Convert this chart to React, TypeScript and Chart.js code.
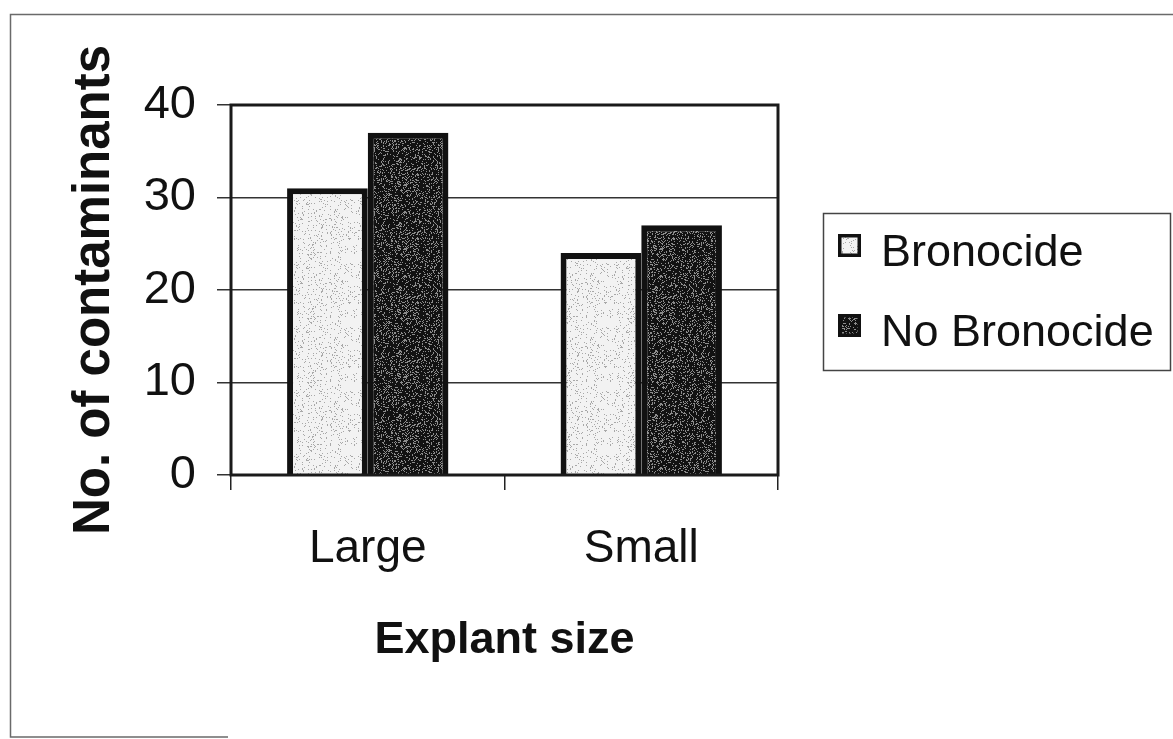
import React, { useEffect, useRef } from "react";
import { Chart, registerables } from "chart.js";

Chart.register(...registerables);

const categories = ["Large", "Small"];
const seriesNames = ["Bronocide", "No Bronocide"];
const bronocideValues = [31, 24];
const noBronocideValues = [37, 27];
const yTickValues = [0, 10, 20, 30, 40];
const yAxisTitle = "No. of contaminants";
const xAxisTitle = "Explant size";

const FONT = '"Liberation Sans", Arial, Helvetica, sans-serif';
const INK = "#111111";

function hash(x: number, y: number, seed: number): number {
  let h = (x * 374761393 + y * 668265263 + seed * 1442695041) | 0;
  h = Math.imul(h ^ (h >>> 13), 1274126177);
  h = h ^ (h >>> 16);
  return (h >>> 0) / 4294967296;
}

function makeTexture(
  ctx: CanvasRenderingContext2D,
  bg: string,
  dot: string,
  density: number,
  seed: number
): CanvasPattern | string {
  const size = 64;
  const c = document.createElement("canvas");
  c.width = size;
  c.height = size;
  const g = c.getContext("2d");
  if (!g) return bg;
  g.fillStyle = bg;
  g.fillRect(0, 0, size, size);
  g.fillStyle = dot;
  for (let y = 0; y < size; y++) {
    for (let x = 0; x < size; x++) {
      if (hash(x, y, seed) < density) g.fillRect(x, y, 1, 1);
    }
  }
  return ctx.createPattern(c, "repeat") || bg;
}

const framePlugin = {
  id: "framePlugin",
  beforeDraw(chart: any) {
    const ctx = chart.ctx as CanvasRenderingContext2D;
    ctx.save();
    ctx.fillStyle = "#ffffff";
    ctx.fillRect(0, 0, chart.width, chart.height);
    ctx.strokeStyle = "#6a6a6a";
    ctx.lineWidth = 1.5;
    ctx.beginPath();
    ctx.moveTo(1173, 14.5);
    ctx.lineTo(10.5, 14.5);
    ctx.lineTo(10.5, 737);
    ctx.lineTo(228, 737);
    ctx.stroke();
    ctx.restore();
  },
  afterDatasetsDraw(chart: any) {
    const { ctx, chartArea } = chart;
    ctx.save();
    ctx.strokeStyle = "#1a1a1a";
    ctx.lineWidth = 3;
    ctx.strokeRect(
      chartArea.left,
      chartArea.top,
      chartArea.right - chartArea.left,
      chartArea.bottom - chartArea.top
    );
    ctx.restore();
  },
  afterDraw(chart: any) {
    const ctx = chart.ctx as CanvasRenderingContext2D;
    ctx.save();
    ctx.strokeStyle = "#444444";
    ctx.lineWidth = 1.5;
    ctx.strokeRect(823.5, 213.5, 347, 157);
    const rows = [
      { sy: 234, base: 266 },
      { sy: 314, base: 346 },
    ];
    chart.data.datasets.forEach((ds: any, i: number) => {
      const r = rows[i];
      if (!r) return;
      ctx.fillStyle = ds.backgroundColor;
      ctx.fillRect(838, r.sy, 23, 23);
      ctx.strokeStyle = "#111111";
      ctx.lineWidth = 3.5;
      ctx.strokeRect(839.75, r.sy + 1.75, 19.5, 19.5);
      ctx.fillStyle = INK;
      ctx.font = `45px ${FONT}`;
      ctx.textAlign = "left";
      ctx.textBaseline = "alphabetic";
      ctx.fillText(ds.label, 881, r.base);
    });
    ctx.restore();
  },
};

export default function App() {
  const canvasRef = useRef<HTMLCanvasElement | null>(null);

  useEffect(() => {
    const canvas = canvasRef.current;
    if (!canvas) return;
    const ctx = canvas.getContext("2d");
    if (!ctx) return;

    const lightFill = makeTexture(ctx, "#f2f2f2", "#a8a8a8", 0.09, 7);
    const darkFill = makeTexture(ctx, "#121212", "#8c8c8c", 0.22, 13);

    const chart = new Chart(canvas, {
      type: "bar",
      data: {
        labels: categories,
        datasets: [
          {
            label: seriesNames[0],
            data: bronocideValues,
            backgroundColor: lightFill as any,
            borderColor: "#111111",
            borderWidth: 6,
            borderSkipped: "start",
            categoryPercentage: 0.59,
            barPercentage: 1.0,
          },
          {
            label: seriesNames[1],
            data: noBronocideValues,
            backgroundColor: darkFill as any,
            borderColor: "#111111",
            borderWidth: 6,
            borderSkipped: "start",
            categoryPercentage: 0.59,
            barPercentage: 1.0,
          },
        ],
      },
      options: {
        responsive: false,
        animation: false,
        layout: {
          padding: { left: 0, top: 105, right: 395, bottom: 0 },
        },
        plugins: {
          legend: { display: false },
          tooltip: { enabled: false },
          title: { display: false },
        },
        scales: {
          x: {
            grid: {
              display: true,
              drawOnChartArea: false,
              drawTicks: true,
              tickLength: 15,
              color: "#222222",
              lineWidth: 1.5,
              offset: true,
            },
            border: { display: false },
            ticks: {
              color: INK,
              font: { family: FONT, size: 46 },
              padding: 32,
              maxRotation: 0,
            },
            title: {
              display: true,
              text: xAxisTitle,
              color: INK,
              font: { family: FONT, size: 45, weight: "bold" },
              padding: { top: 0, bottom: 71 },
            },
            afterFit: (s: any) => {
              s.height = 264;
            },
          },
          y: {
            min: yTickValues[0],
            max: yTickValues[yTickValues.length - 1],
            afterBuildTicks: (s: any) => {
              s.ticks = yTickValues.map((v) => ({ value: v }));
            },
            grid: {
              display: true,
              drawOnChartArea: true,
              drawTicks: true,
              tickLength: 14,
              color: "#333333",
              lineWidth: 1.5,
            },
            border: { display: false },
            ticks: {
              color: INK,
              font: { family: FONT, size: 47 },
              padding: 21,
            },
            title: {
              display: true,
              text: yAxisTitle,
              color: INK,
              font: { family: FONT, size: 51, weight: "bold" },
              padding: { top: 64, bottom: 0 },
            },
            afterFit: (s: any) => {
              s.width = 231;
            },
          },
        },
      },
      plugins: [framePlugin],
    });

    return () => {
      chart.destroy();
    };
  }, []);

  return (
    <div style={{ position: "absolute", left: 0, top: 0, width: 1173, height: 739 }}>
      <canvas ref={canvasRef} width={1173} height={739} style={{ display: "block" }} />
    </div>
  );
}
